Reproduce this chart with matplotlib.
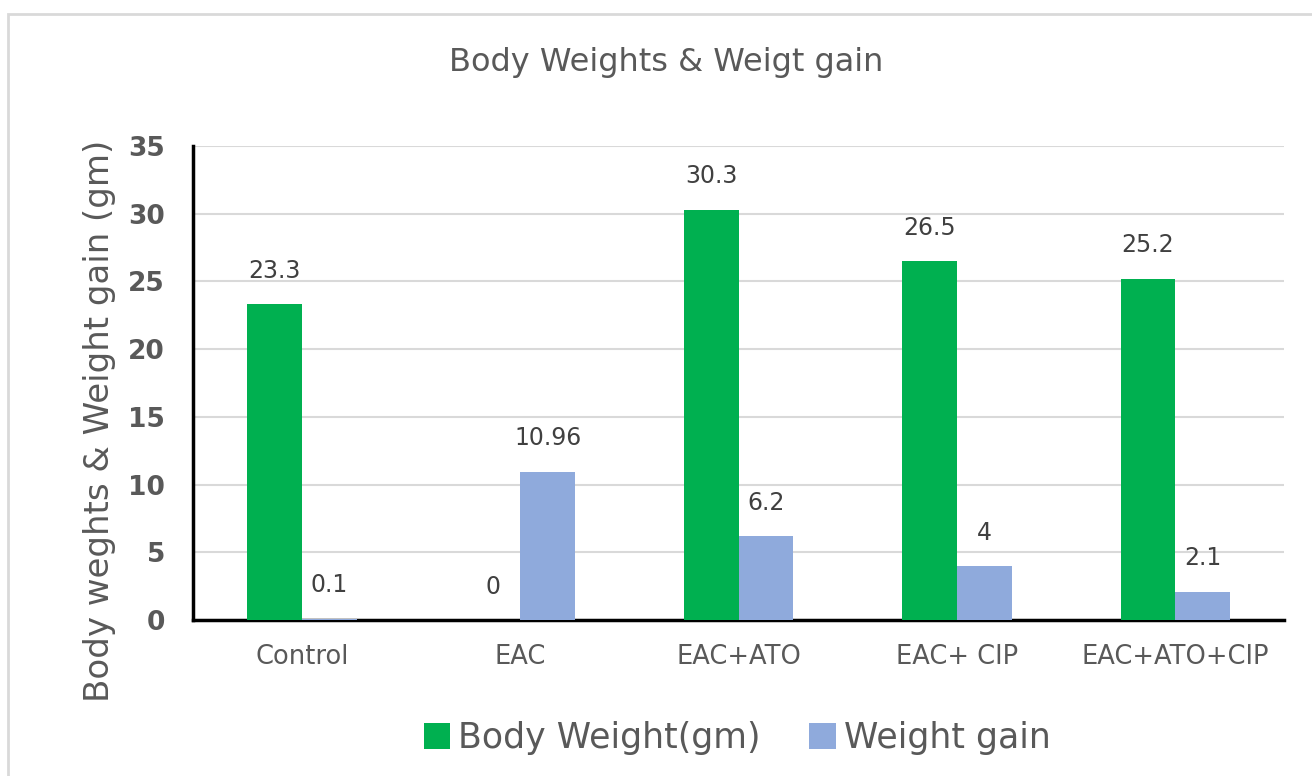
import matplotlib.pyplot as plt
from matplotlib.patches import Rectangle
import numpy as np

# Data
groups = ['Control', 'EAC', 'EAC+ATO', 'EAC+ CIP', 'EAC+ATO+CIP']
body_weight = [23.3, 0, 30.3, 26.5, 25.2]
weight_gain = [0.1, 10.96, 6.2, 4, 2.1]
body_labels = ['23.3', '0', '30.3', '26.5', '25.2']
gain_labels = ['0.1', '10.96', '6.2', '4', '2.1']

green = '#00B050'
blue = '#8FAADC'
grey = '#595959'

plt.rcParams['font.family'] = 'DejaVu Sans'

fig = plt.figure(figsize=(13.12, 7.76), dpi=100)
ax = fig.add_axes([0.147, 0.201, 0.832, 0.611])

# light border round the chart area
fig.patches.append(Rectangle((8 / 1312, -0.01), 1.0, 1 - 14 / 776 + 0.01,
                             transform=fig.transFigure, fill=False,
                             edgecolor='#D9D9D9', linewidth=2))

x = np.arange(len(groups))
w = 0.25
b1 = ax.bar(x - w / 2, body_weight, w, color=green, label='Body Weight(gm)', zorder=3)
b2 = ax.bar(x + w / 2, weight_gain, w, color=blue, label='Weight gain', zorder=3)

for bars, labels in [(b1, body_labels), (b2, gain_labels)]:
    for bar, lab in zip(bars, labels):
        ax.annotate(lab, (bar.get_x() + bar.get_width() / 2, bar.get_height()),
                    xytext=(0, 24), textcoords='offset points', ha='center',
                    va='center', fontsize=17, color='#404040')

ax.set_xlim(-0.5, len(groups) - 0.5)
ax.set_ylim(0, 35)
ax.set_yticks(range(0, 36, 5))
ax.set_xticks(x)
ax.set_xticklabels(groups, fontsize=18.5, color=grey)
for t in ax.get_yticklabels():
    t.set_fontsize(19)
    t.set_fontweight('bold')
    t.set_color(grey)
ax.tick_params(length=0)
ax.tick_params(axis='x', pad=17)
ax.tick_params(axis='y', pad=20)

ax.yaxis.grid(True, color='#D9D9D9', linewidth=1.5, zorder=0)
for s in ['top', 'right']:
    ax.spines[s].set_visible(False)
for s in ['left', 'bottom']:
    ax.spines[s].set_color('black')
    ax.spines[s].set_linewidth(2.5)

ax.set_ylabel('Body weghts & Weight gain (gm)', fontsize=24.5, color=grey)
ax.yaxis.set_label_coords(-0.07, 0.42)
fig.text(0.508, 0.92, 'Body Weights & Weigt gain', ha='center', va='center',
         fontsize=23, color=grey)

fig.legend(loc='center', bbox_to_anchor=(0.562, 0.049), ncol=2, frameon=False,
           fontsize=25, handlelength=0.75, handleheight=0.75, handletextpad=0.25,
           columnspacing=1.4, labelcolor=grey)

fig.savefig('out.png', dpi=100)
